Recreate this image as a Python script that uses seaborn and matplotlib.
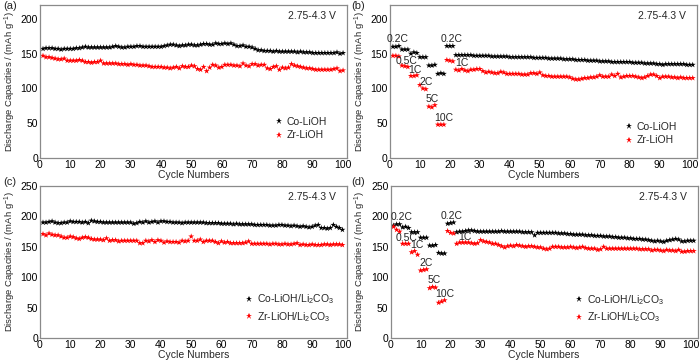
import numpy as np
import pandas as pd
import matplotlib
matplotlib.use("Agg")
import matplotlib.pyplot as plt
import seaborn as sns

# ---------------- data ----------------
a_co = [157,158,158,158,157,157,156,157,157,157,
        157,158,158,159,160,159,159,159,159,159,
        159,159,159,160,161,160,159,159,160,160,
        160,161,161,160,160,160,160,160,160,160,
        161,162,163,163,162,161,162,162,163,163,
        162,162,163,164,164,163,163,165,164,164,
        165,164,165,163,161,161,162,160,160,159,
        157,155,155,154,154,154,153,154,153,153,
        153,153,153,153,152,153,152,152,152,151,
        151,151,151,151,151,151,151,152,150,151]
a_zr = [147,145,145,144,143,142,142,143,140,140,
        140,140,141,140,138,138,137,138,138,140,
        136,136,136,136,136,135,135,135,134,135,
        134,134,133,133,133,132,131,131,131,131,
        130,130,129,130,131,129,132,131,131,133,
        132,128,127,131,125,130,134,133,130,131,
        134,134,134,133,133,132,136,133,132,135,
        135,133,134,134,129,128,131,132,127,130,
        129,130,135,133,132,131,130,129,129,128,
        127,127,127,127,127,127,128,129,125,126]

b_co = [160,160,161, 156,156,156, 150,152,151, 145,145,145,
        133,133,134, 121,122,121, 161,161,161,
        148,148,148,148,148,148,147,147,147,147,
        147,147,146,146,146,146,146,146,145,145,
        145,145,145,145,145,145,144,144,144,144,
        144,143,143,143,143,143,142,142,142,142,
        141,141,141,141,140,140,140,140,139,139,
        139,139,138,138,138,138,138,138,138,137,
        137,137,137,136,136,136,136,135,135,134,
        135,135,135,135,135,135,135,134,134,134]
b_zr = [147,147,146, 133,132,131, 118,118,119, 105,100,99,
        74,73,76, 48,48,48, 141,140,139,
        127,126,128,126,125,127,127,128,128,125,
        123,124,123,122,122,124,123,121,121,121,
        121,121,120,120,120,122,122,121,123,119,
        118,118,117,117,117,117,117,117,116,114,
        113,113,114,115,115,116,116,117,119,117,
        117,117,120,118,121,116,117,118,118,118,
        117,116,115,116,118,120,120,118,115,117,
        117,117,116,116,115,116,115,115,115,115]

c_co = [190,190,191,192,190,189,189,190,190,192,
        191,191,191,190,191,189,193,192,191,191,
        190,190,190,190,190,190,190,190,190,190,
        188,189,191,190,192,190,191,192,190,192,
        192,191,191,190,190,190,189,190,190,190,
        190,190,190,190,189,189,189,189,189,188,
        188,188,188,187,188,187,187,187,187,187,
        186,186,186,186,186,185,185,185,186,186,
        185,185,184,185,184,183,184,183,182,183,
        185,186,181,181,180,181,186,183,181,178]
c_zr = [171,169,172,170,169,169,167,165,165,167,
        166,164,163,165,166,165,163,162,162,162,
        161,164,160,161,161,159,160,160,160,160,
        160,160,156,156,160,159,161,158,161,160,
        157,159,158,158,158,157,160,159,160,167,
        160,160,162,158,160,160,160,158,156,159,
        157,158,156,156,156,156,156,157,159,155,
        155,155,155,155,155,154,155,155,154,154,
        155,154,154,155,156,153,154,153,153,154,
        153,153,153,154,154,153,154,154,154,153]

d_co = [185,187,187, 182,183,181, 174,174,174, 165,165,165,
        152,152,153, 140,139,139, 188,189,190,
        174,175,175,176,177,177,176,175,175,175,
        175,175,175,175,175,176,175,175,175,175,
        175,175,174,174,174,174,169,173,173,173,
        173,173,173,173,172,172,172,171,171,170,
        170,170,170,169,169,169,168,168,168,167,
        167,167,166,166,165,165,165,164,164,163,
        163,163,162,162,161,160,159,160,159,158,
        160,161,162,163,162,159,159,160,160,160]
d_zr = [183,178,175, 155,155,155, 141,143,137, 111,112,113,
        82,84,83, 58,60,62, 176,173,172,
        155,157,157,157,157,156,155,156,161,159,
        158,157,155,155,153,151,149,151,152,151,
        153,152,151,150,151,151,150,149,149,147,
        146,147,150,150,150,149,149,149,150,149,
        148,149,150,148,147,147,147,145,146,150,
        147,147,147,147,147,147,147,147,147,147,
        147,146,146,146,146,144,145,145,144,143,
        145,144,144,143,145,142,142,143,143,143]

rate_labels = ["0.2C", "0.5C", "1C", "2C", "5C", "10C", "0.2C", "1C"]

names_top = ["Co-LiOH", "Zr-LiOH"]
names_bot = ["Co-LiOH/Li$_2$CO$_3$", "Zr-LiOH/Li$_2$CO$_3$"]
panel_tags = ["(a)", "(b)", "(c)", "(d)"]
voltage = "2.75-4.3 V"

# ---------------- style ----------------
sns.set_theme(style="white")
plt.rcParams["font.family"] = ["Liberation Sans", "DejaVu Sans"]
plt.rcParams["mathtext.fontset"] = "custom"
plt.rcParams["mathtext.rm"] = "Liberation Sans"
plt.rcParams["mathtext.it"] = "Liberation Sans:italic"

fig = plt.figure(figsize=(7.0, 3.62), dpi=100)

def make_df(co, zr, names):
    n1, n2 = len(co), len(zr)
    return pd.DataFrame({
        "cycle": list(range(1, n1 + 1)) + list(range(1, n2 + 1)),
        "cap": co + zr,
        "sample": [names[0]] * n1 + [names[1]] * n2,
    })

panels = [
    dict(co=a_co, zr=a_zr, names=names_top, rect=[0.0571, 0.5635, 0.4386, 0.4227],
         ylim=220, yt=[0, 50, 100, 150, 200], xlim=101.3, leg=(0.742, 0.193), rate=None),
    dict(co=b_co, zr=b_zr, names=names_top, rect=[0.557, 0.5635, 0.4386, 0.4227],
         ylim=220, yt=[0, 50, 100, 150, 200], xlim=102.4, leg=(0.742, 0.16), rate="b"),
    dict(co=c_co, zr=c_zr, names=names_bot, rect=[0.0571, 0.0663, 0.4386, 0.4199],
         ylim=250, yt=[0, 50, 100, 150, 200, 250], xlim=101.5, leg=(0.645, 0.197), rate=None),
    dict(co=d_co, zr=d_zr, names=names_bot, rect=[0.558, 0.0663, 0.4386, 0.4199],
         ylim=250, yt=[0, 50, 100, 150, 200, 250], xlim=102.3, leg=(0.577, 0.194), rate="d"),
]

rate_pos = {
    "b": [(2.5, 171), (5.6, 140), (8.3, 127), (12.0, 110), (14.1, 85), (17.8, 57), (20.5, 171), (24.0, 137)],
    "d": [(3.7, 199), (5.3, 165), (8.7, 153), (12.0, 124), (14.6, 95), (17.9, 72), (20.5, 201), (24.8, 166)],
}

for i, p in enumerate(panels):
    ax = fig.add_axes(p["rect"])
    df = make_df(p["co"], p["zr"], p["names"])
    sns.scatterplot(data=df, x="cycle", y="cap", hue="sample",
                    palette={p["names"][0]: "black", p["names"][1]: "red"},
                    marker="*", s=20, edgecolor="none", linewidth=0, ax=ax)
    ax.set_xlim(0, p["xlim"])
    ax.set_ylim(0, p["ylim"])
    ax.set_xticks(range(0, 101, 10))
    ax.set_yticks(p["yt"])
    ax.tick_params(axis="both", direction="in", length=2.5, width=0.6,
                   labelsize=7.5, pad=1.5, colors="#555555", labelcolor="black")
    for s in ax.spines.values():
        s.set_color("#8a8a8a")
        s.set_linewidth(0.9)
    ax.set_xlabel("Cycle Numbers", fontsize=7.5, labelpad=0)
    ax.set_ylabel("Discharge Capacities / (mAh g$^{-1}$)", fontsize=6.8, labelpad=2)
    ax.text(0.965, 0.93, voltage, transform=ax.transAxes, ha="right", va="center", fontsize=7.5)
    ax.legend(loc="center left", bbox_to_anchor=p["leg"], frameon=False, fontsize=7.5,
              handletextpad=0.1, labelspacing=0.35, borderpad=0, handlelength=1.2,
              markerscale=1.0)
    if p["rate"]:
        for lab, (x, y) in zip(rate_labels, rate_pos[p["rate"]]):
            ax.text(x, y, lab, ha="center", va="center", fontsize=7.5)

fig.text(0.004, 0.984, panel_tags[0], fontsize=8, ha="left", va="center")
fig.text(0.502, 0.984, panel_tags[1], fontsize=8, ha="left", va="center")
fig.text(0.004, 0.497, panel_tags[2], fontsize=8, ha="left", va="center")
fig.text(0.502, 0.497, panel_tags[3], fontsize=8, ha="left", va="center")

fig.savefig("out.png", dpi=100)
